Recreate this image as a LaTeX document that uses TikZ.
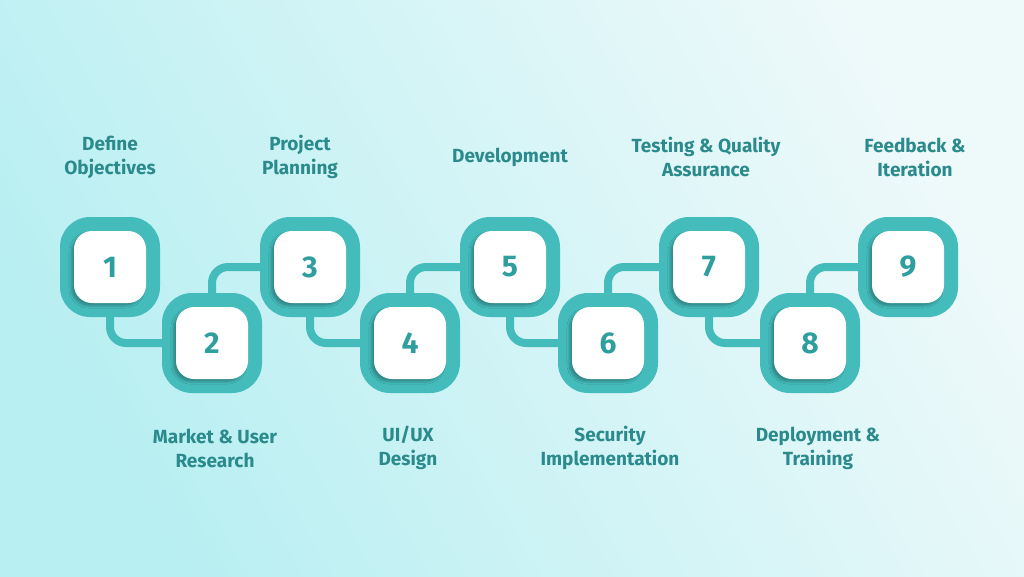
\documentclass[tikz,border=0pt]{standalone}
\usepackage{fontspec}
\setmainfont{Fira Sans}
\usetikzlibrary{shadows.blur}
\definecolor{bgA}{HTML}{B8EFF2}
\definecolor{bgB}{HTML}{EEF9FA}
\definecolor{teal}{HTML}{45BCBC}
\definecolor{tealtxt}{HTML}{2E9E9E}
\definecolor{lbl}{HTML}{2A8A8C}
\tikzset{
 outerbox/.style={fill=teal, rounded corners=30pt, minimum size=100pt, inner sep=0pt},
 innerbox/.style={fill=white, rounded corners=18pt, minimum size=72pt, inner sep=0pt, font=\fontsize{30}{30}\selectfont\bfseries, text=tealtxt, blur shadow={shadow xshift=-3pt, shadow yshift=-3pt, shadow opacity=25}},
 link/.style={draw=teal, line width=8pt, rounded corners=16pt},
 lab/.style={font=\fontsize{19}{24}\selectfont\bfseries, text=lbl, align=center}
}
\begin{document}
\begin{tikzpicture}[x=1pt,y=-1pt]
\shade[left color=bgA, right color=bgB, shading angle=120] (0,0) rectangle (1024,576);
\useasboundingbox (0,0) rectangle (1024,576);
\foreach \i/\x/\y in {1/110/267,2/212/343,3/310/267,4/410/343,5/510/267,6/608/343,7/709/267,8/810/343,9/908/267}{
  \coordinate (c\i) at (\x,\y);
}
\draw[link] (c1) -- (c1 |- c2) -- (c2);
\draw[link] (c2) -- (c2 |- c3) -- (c3);
\draw[link] (c3) -- (c3 |- c4) -- (c4);
\draw[link] (c4) -- (c4 |- c5) -- (c5);
\draw[link] (c5) -- (c5 |- c6) -- (c6);
\draw[link] (c6) -- (c6 |- c7) -- (c7);
\draw[link] (c7) -- (c7 |- c8) -- (c8);
\draw[link] (c8) -- (c8 |- c9) -- (c9);
\foreach \i in {1,...,9}{
  \node[outerbox] (o\i) at (c\i) {};
  \node[innerbox] (n\i) at (c\i) {\i};
}
\node[lab] (l1) at (110,157) {Define\\Objectives};
\node[lab] (l2) at (215,448) {Market \& User\\Research};
\node[lab] (l3) at (300,157) {Project\\Planning};
\node[lab] (l4) at (408,448) {UI/UX\\Design};
\node[lab] (l5) at (510,157) {Development};
\node[lab] (l6) at (610,448) {Security\\Implementation};
\node[lab] (l7) at (706,157) {Testing \& Quality\\Assurance};
\node[lab] (l8) at (818,448) {Deployment \&\\Training};
\node[lab] (l9) at (915,157) {Feedback \&\\Iteration};
\end{tikzpicture}
\end{document}
